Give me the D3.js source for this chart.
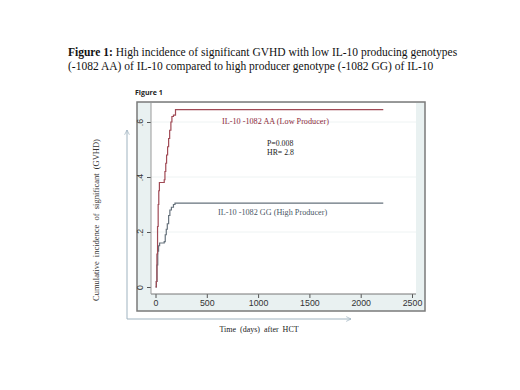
<!DOCTYPE html>
<html>
<head>
<meta charset="utf-8">
<script src="https://cdn.jsdelivr.net/npm/d3@7"></script>
<style>
  body { margin: 0; background: #fff; }
  svg { display: block; }
</style>
</head>
<body>
<div class="chart"></div>
<script>
// step points (days after HCT, cumulative incidence)
const aaDays   = [0, 8, 14, 20, 26, 32, 38, 85, 92, 100, 108, 118, 128, 138, 150, 160, 175, 195, 2220];
const aaValues = [0, 0.02, 0.12, 0.22, 0.30, 0.35, 0.38, 0.39, 0.42, 0.45, 0.48, 0.51, 0.54, 0.57, 0.60, 0.62, 0.625, 0.645, 0.645];
const ggDays   = [0, 8, 14, 22, 30, 40, 85, 95, 105, 115, 128, 140, 155, 175, 190, 2220];
const ggValues = [0, 0.02, 0.08, 0.13, 0.15, 0.16, 0.165, 0.19, 0.21, 0.23, 0.26, 0.28, 0.29, 0.30, 0.305, 0.305];
const xTicks = [0, 500, 1000, 1500, 2000, 2500];
const yTicks = [0, 0.2, 0.4, 0.6];
const yTickLabels = ["0", ".2", ".4", ".6"];

const width = 520, height = 390;
const frame = {left: 137, right: 425, top: 102, bottom: 311};
const plot = {left: 151, right: 416, top: 103, bottom: 294};

const svg = d3.select(".chart").append("svg")
  .attr("width", width)
  .attr("height", height);

const serif = "'Liberation Serif', 'Times New Roman', serif";
const sans = "'Liberation Sans', Arial, sans-serif";

// title
const title = svg.append("text")
  .attr("x", 68).attr("y", 56)
  .style("font-family", serif).style("font-size", "11.5px").attr("fill", "#111");
title.append("tspan").style("font-weight", "bold").text("Figure 1:");
title.append("tspan").text(" High incidence of significant GVHD with low IL-10 producing genotypes");
svg.append("text")
  .attr("x", 68).attr("y", 70)
  .style("font-family", serif).style("font-size", "11.5px").attr("fill", "#111")
  .text("(-1082 AA) of IL-10 compared to high producer genotype (-1082 GG) of IL-10");

svg.append("text")
  .attr("x", 135).attr("y", 95)
  .style("font-family", "'Open Sans', sans-serif").style("font-size", "7px")
  .style("font-weight", "bold").attr("fill", "#222")
  .text("Figure 1");

// graph region
svg.append("rect")
  .attr("x", frame.left).attr("y", frame.top)
  .attr("width", frame.right - frame.left).attr("height", frame.bottom - frame.top)
  .attr("fill", "#e9f1f1").attr("stroke", "#7a7a7a").attr("stroke-width", 1.5);

svg.append("rect")
  .attr("x", plot.left).attr("y", plot.top)
  .attr("width", plot.right - plot.left).attr("height", plot.bottom - plot.top)
  .attr("fill", "#fff");

const x = d3.scaleLinear().domain([0, 2500]).range([155.5, 412]);
const y = d3.scaleLinear().domain([0, 0.6]).range([287, 122]);

// faint grid
svg.append("g").selectAll("line")
  .data(yTicks.slice(1))
  .enter().append("line")
  .attr("x1", plot.left).attr("x2", plot.right)
  .attr("y1", d => y(d)).attr("y2", d => y(d))
  .attr("stroke", "#eef3f3").attr("stroke-width", 1);

// axes
const xAxis = d3.axisBottom(x).tickValues(xTicks).tickFormat(d3.format("d")).tickSize(4).tickPadding(2);
const gx = svg.append("g")
  .attr("transform", `translate(0, ${plot.bottom})`)
  .call(xAxis);
gx.select(".domain").remove();
gx.selectAll("line").attr("stroke", "#555");
gx.selectAll("text").style("font-family", sans).style("font-size", "8.8px").attr("fill", "#333");

const yAxis = d3.axisLeft(y).tickValues(yTicks).tickFormat((d, i) => yTickLabels[i]).tickSize(4).tickPadding(2);
const gy = svg.append("g")
  .attr("transform", `translate(${plot.left}, 0)`)
  .call(yAxis);
gy.select(".domain").remove();
gy.selectAll("line").attr("stroke", "#555");
gy.selectAll("text")
  .style("font-family", sans).style("font-size", "8.8px").attr("fill", "#333")
  .attr("text-anchor", "middle")
  .attr("x", 0).attr("y", 0).attr("dy", null)
  .attr("transform", "translate(-8, 0) rotate(-90)");

svg.append("line")
  .attr("x1", plot.left).attr("x2", plot.right)
  .attr("y1", plot.bottom).attr("y2", plot.bottom)
  .attr("stroke", "#777").attr("stroke-width", 1);
svg.append("line")
  .attr("x1", plot.left).attr("x2", plot.left)
  .attr("y1", plot.top).attr("y2", plot.bottom)
  .attr("stroke", "#999").attr("stroke-width", 1);

// curves
const line = d3.line()
  .x(d => x(d[0]))
  .y(d => y(d[1]))
  .curve(d3.curveStepAfter);

svg.append("path")
  .datum(ggDays.map((d, i) => [d, ggValues[i]]))
  .attr("d", line)
  .attr("fill", "none").attr("stroke", "#66727c").attr("stroke-width", 1.2);

svg.append("path")
  .datum(aaDays.map((d, i) => [d, aaValues[i]]))
  .attr("d", line)
  .attr("fill", "none").attr("stroke", "#a04a55").attr("stroke-width", 1.2);

// labels inside
svg.append("text")
  .attr("x", 222).attr("y", 123.5)
  .style("font-family", serif).style("font-size", "8.2px").attr("fill", "#8c2a3a")
  .text("IL-10 -1082 AA (Low Producer)");
svg.append("text")
  .attr("x", 267).attr("y", 146)
  .style("font-family", serif).style("font-size", "7.8px").attr("fill", "#222")
  .text("P=0.008");
svg.append("text")
  .attr("x", 267).attr("y", 155)
  .style("font-family", serif).style("font-size", "7.8px").attr("fill", "#222")
  .text("HR= 2.8");
svg.append("text")
  .attr("x", 218).attr("y", 215)
  .style("font-family", serif).style("font-size", "8.2px").attr("fill", "#4a5866")
  .text("IL-10 -1082 GG (High Producer)");

// axis titles and arrows
svg.append("text")
  .attr("transform", "translate(99, 220) rotate(-90)")
  .attr("text-anchor", "middle")
  .style("font-family", serif).style("font-size", "8.5px").attr("fill", "#333")
  .style("word-spacing", "2px")
  .text("Cumulative incidence of significant (GVHD)");

svg.append("text")
  .attr("x", 259).attr("y", 332)
  .attr("text-anchor", "middle")
  .style("font-family", serif).style("font-size", "8px").attr("fill", "#222")
  .style("word-spacing", "2px")
  .text("Time (days) after HCT");

const defs = svg.append("defs");
defs.append("marker")
  .attr("id", "arr").attr("viewBox", "0 0 10 10")
  .attr("refX", 9).attr("refY", 5)
  .attr("markerWidth", 6).attr("markerHeight", 6)
  .attr("orient", "auto")
  .append("path").attr("d", "M1,1 L9,5 L1,9")
  .attr("fill", "none").attr("stroke", "#9fb3c0").attr("stroke-width", 1.2);

svg.append("path")
  .attr("d", "M127,319 L127,130")
  .attr("stroke", "#9fb3c0").attr("stroke-width", 1).attr("fill", "none")
  .attr("marker-end", "url(#arr)");
svg.append("path")
  .attr("d", "M127,319 L351,319")
  .attr("stroke", "#9fb3c0").attr("stroke-width", 1).attr("fill", "none")
  .attr("marker-end", "url(#arr)");
</script>
</body>
</html>
